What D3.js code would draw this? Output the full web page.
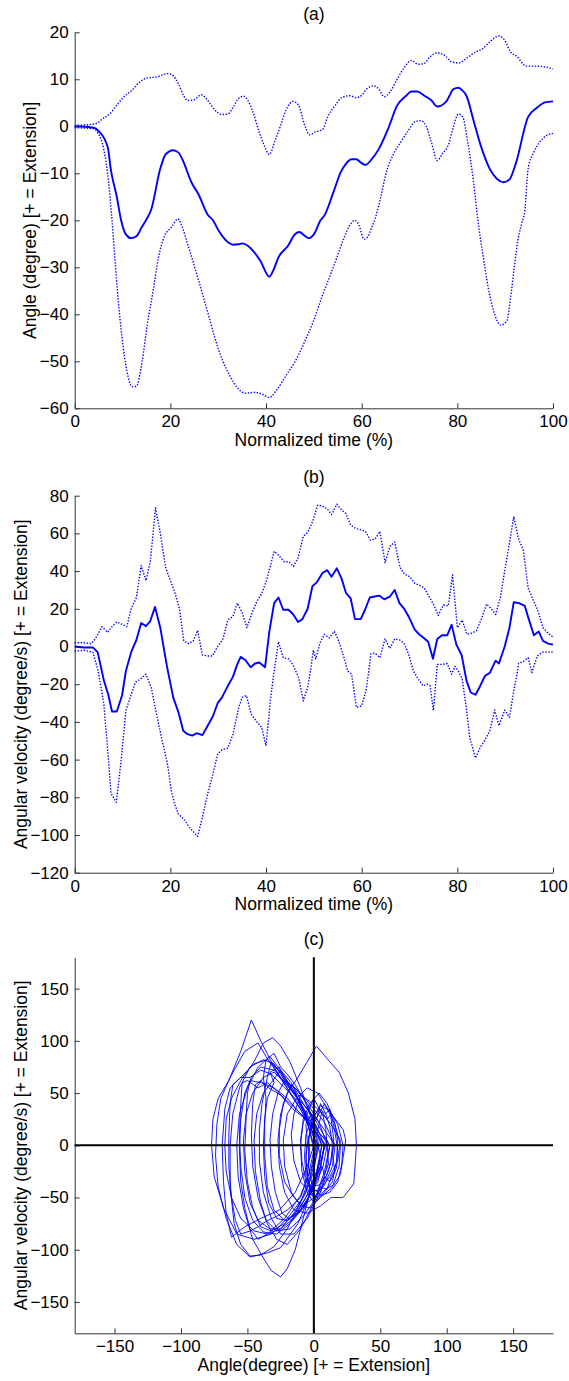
<!DOCTYPE html>
<html><head><meta charset="utf-8">
<script src="https://cdn.jsdelivr.net/npm/d3@7"></script>
<style>
body{margin:0;background:#fff}
svg{display:block}
text{font-family:"Liberation Sans",Arial,Helvetica,sans-serif;fill:#000}
</style>
</head><body>
<svg id="chart" width="569" height="1381"></svg>
<script>
// ---------- Panel (a): angle (degree) vs normalized time (%) ----------
const angleMean = [[0,0],[4,-0.3],[5,-1],[6.9,-4.4],[7.6,-9.5],[8.8,-15],[9.7,-20],[10.7,-23],[11.8,-23.8],[12.9,-23.4],[14,-21.5],[14.9,-20],[16,-17.7],[17.9,-9],[19,-6],[20.6,-5.1],[21.7,-5.6],[22.5,-7],[24.4,-11.9],[25.9,-14.5],[27.8,-18.8],[28.9,-20],[30.1,-22.2],[32.4,-24.9],[33.1,-25.2],[34.3,-25.1],[35,-24.9],[36.2,-25.4],[37.3,-26.5],[38.8,-28.6],[40.7,-32],[41.5,-30.7],[42.6,-27.9],[44.6,-25.4],[46.1,-22.9],[47,-22.5],[48,-23.2],[49,-23.8],[50,-23],[51.4,-20],[52.2,-19],[54.1,-14],[55.6,-9.8],[56.7,-8],[57.9,-7],[58.9,-7],[59.8,-7.7],[60.8,-8.2],[62.1,-7],[63.6,-4.8],[65.5,-0.6],[67.4,4.4],[69.3,6.5],[70.4,7.4],[71.6,7.4],[73.1,6.5],[74.6,5.5],[75.8,4.2],[77.7,5.3],[79.2,7.9],[80.2,8.2],[81.1,7.6],[81.9,6.5],[83.4,1.2],[84.8,-3.8],[86.8,-9.1],[88.3,-11.2],[89.7,-11.9],[90.9,-11.3],[92.2,-8],[94.8,2],[96.7,4],[98.3,5.1],[100,5.3]];
const angleUpper = [[0,0.2],[4.2,0.5],[6.1,1.8],[7.2,2.5],[8.8,4.5],[10.3,6.3],[11.8,7.5],[13.7,9.5],[15.2,10.3],[17.1,10.5],[19.4,11.2],[20.3,11],[21.7,9],[22.8,6.5],[23.6,5.5],[24.8,5.6],[26.5,6.7],[27.8,5.5],[29.3,3.5],[30.8,2.5],[32,2.6],[33.1,4],[34.3,6],[35.3,6.4],[36.2,5.5],[37.3,3],[38.5,-1],[39.6,-4],[40.7,-6],[41.9,-3],[43,0],[44.2,3.5],[45.7,5.3],[46.8,4.5],[48,0.5],[49.1,-1.8],[50.3,-1.2],[51.8,-0.7],[52.9,2],[54.5,4.5],[55.8,6.1],[57.5,6.5],[58.9,6.1],[60.2,6.8],[60.9,7.8],[62.5,8.6],[63.6,7.9],[64.7,6.3],[65.9,7.3],[67.4,10],[68.9,12.5],[70.4,14],[71.8,13.2],[73.1,13.4],[74.3,14.8],[75.8,15.6],[77.7,14.8],[78.8,13.7],[80.3,13.5],[82.2,14.7],[83.8,15.8],[85.3,16.5],[86.8,18],[88.7,19.2],[89.9,18.3],[91,16],[92.5,14.8],[94.4,12.8],[96.3,12.8],[98.6,12.6],[100,12.2]];
const angleLower = [[0,-0.3],[3.8,-0.5],[4.9,-1.5],[6.1,-5],[7.1,-12],[7.8,-20],[8.4,-28],[9.1,-37],[9.9,-45],[10.9,-52],[12,-55.4],[12.9,-55.3],[14.1,-50],[15.2,-42],[16.4,-35],[17.5,-28],[18.7,-23.5],[20.2,-21.5],[21.6,-19.7],[22.5,-21.5],[23.6,-25],[24.8,-29],[26.1,-33.5],[27.8,-39.5],[29.3,-45],[30.8,-49.5],[32.4,-53],[33.9,-55.5],[35.8,-56.8],[37.7,-56.6],[39.2,-57],[40.7,-57.7],[42.3,-56],[44.2,-53],[46.1,-50],[48,-46],[49.9,-41.5],[51.8,-36],[53.3,-32],[54.8,-28],[56.4,-23.5],[57.9,-20.5],[58.6,-20],[59.4,-21],[60.5,-24],[61.3,-23.5],[62.1,-21.5],[62.8,-19.7],[64,-15],[65.1,-10],[66.6,-6],[68.2,-3.3],[69.7,-1],[71.2,1],[72.4,1.2],[73.5,0],[74.6,-3.5],[75.8,-7.3],[76.9,-5.8],[78.1,-4],[79.2,0],[80.2,2.6],[81.1,2],[82.2,-3.5],[83.4,-12],[84.3,-20],[85.3,-27],[86.4,-34],[87.8,-40],[89.1,-42.3],[90.3,-41.5],[91.2,-36],[91.9,-30],[92.7,-24],[93.5,-20.5],[94.1,-18],[94.8,-9],[96,-5.5],[97.1,-3.5],[98.6,-2],[100,-1.5]];

// ---------- Panel (b): angular velocity (degree/s) vs normalized time (%) ----------
const velMean = [[0,0],[1.9,-0.5],[3.8,-0.5],[4.8,-3],[6.1,-18],[7,-25.3],[7.8,-34.5],[8.8,-34.5],[9.9,-26],[10.7,-13],[11.8,-3],[12.9,3.5],[13.9,12.5],[14.9,10.8],[15.8,13.5],[16.8,21],[17.9,10],[18.9,-5],[19.4,-12],[20.6,-27],[21.7,-35],[22.7,-44.7],[23.6,-46.5],[24.6,-47.3],[25.5,-46],[26.7,-47],[27.8,-42],[28.9,-37],[29.9,-30],[30.8,-27],[32,-21],[33.1,-16],[33.9,-10],[34.7,-5.5],[35.6,-7],[36.8,-11],[37.7,-9],[38.6,-8.5],[39.8,-11],[40.7,8],[41.7,23],[42.6,26],[43.6,19.5],[44.7,19.5],[45.7,17],[46.7,13],[47.6,14.5],[48.7,20],[49.7,32],[50.6,34],[51.8,39],[52.8,40.5],[53.7,37],[54.8,41.5],[55.8,36],[56.7,28.5],[57.7,25.5],[58.6,14.5],[59.8,14.5],[60.7,19.5],[61.7,26],[62.7,26.5],[63.7,27],[64.7,25],[65.9,26.5],[66.9,30],[67.9,23],[68.9,20],[69.9,15.5],[71.1,9],[72,6.5],[73,4.5],[73.9,2.5],[74.9,-6.5],[75.8,4],[76.8,6],[77.9,6],[78.8,11.5],[79.8,1],[80.9,-4.5],[81.9,-18],[82.8,-24.4],[83.8,-25.6],[84.8,-20.8],[85.8,-15.5],[86.8,-14],[88,-7.5],[88.7,-9],[89.9,0],[90.9,10],[91.8,23.5],[92.9,23],[94.1,21.5],[95,14],[96,6],[97,8],[97.9,3],[99,1.5],[100,1]];
const velUpper = [[0,2],[1.9,2],[3.4,1.5],[4.3,4],[5.7,10.5],[6.9,7.5],[7.6,10],[8.8,13],[9.7,12],[10.9,10.5],[11.8,20],[12.9,26],[13.9,43],[14.9,35],[15.8,45],[16.9,73.5],[17.9,60],[19,42],[20,35],[20.9,29],[21.9,20],[22.8,3],[23.8,1.5],[24.8,3],[25.7,8.5],[26.7,-4.5],[27.8,-5],[28.8,-5],[29.9,0],[31,4],[32,14],[33.1,16],[34,23],[35,18],[36,10],[37.1,18],[38.1,24],[39.1,28],[40.1,35],[41.7,50.5],[42.6,48.5],[43.8,45],[44.8,45],[45.7,42.5],[46.7,47],[47.8,58.5],[48.7,60.5],[49.7,66],[50.8,75],[51.8,74.5],[52.8,73],[53.7,70],[54.8,75.5],[55.8,72.5],[56.7,70.5],[57.7,64.5],[58.8,62.5],[59.8,62],[60.8,61],[61.8,56.5],[62.8,57],[63.8,61],[64.9,44.5],[65.9,53],[66.9,55.5],[68,42],[68.9,38.5],[70.1,37],[71.1,33.5],[72.1,32.5],[73.1,31],[74.1,26.5],[75,22.5],[76,16.5],[77.1,22],[78.1,21.5],[79,38],[80,10],[81,14],[82,6.5],[83,7],[84,8.5],[85.1,15],[86.1,22.5],[87.1,20],[88,17],[89,26],[89.9,40],[90.9,55],[91.8,69],[92.8,57],[93.8,51],[94.8,31],[95.8,25],[96.7,20],[97.9,10],[99,7],[100,5]];
const velLower = [[0,-2.5],[1.9,-2],[3.8,-3],[4.9,-12.9],[6.1,-30.5],[6.9,-55],[7.6,-78],[8.1,-80],[8.7,-82.7],[9.7,-60.6],[10.7,-34],[11.6,-27],[12.7,-19],[13.7,-17.3],[14.9,-14.7],[16,-21.7],[17.1,-35.8],[18.3,-50],[19.4,-62.4],[20.2,-76.5],[20.9,-83.6],[21.7,-89],[22.8,-91.5],[24,-96],[25.7,-100.7],[26.7,-90.6],[27.8,-78.3],[28.9,-67.7],[29.9,-57],[30.8,-54.8],[32,-53.9],[33.1,-46.5],[34.3,-32.3],[35,-27],[35.9,-26],[36.9,-35.8],[37.9,-39.4],[39.1,-43],[40,-52.7],[40.9,-28.8],[41.7,-13],[42.6,2.5],[43.6,-6],[44.7,-6.5],[45.7,-10],[46.8,-16.4],[47.8,-28.8],[48.7,-21.7],[49.3,-12.9],[49.9,-2],[50.4,-6.5],[51.3,2],[52.2,6.5],[53.2,4.5],[54.3,8],[55.2,3],[56.2,-5],[57.1,-13],[57.9,-14.7],[58.9,-32.3],[60,-31.5],[60.9,-23.5],[61.5,-12.9],[61.9,-4],[62.8,-3.5],[63.8,-6],[64.9,4],[65.9,-1],[66.9,4],[67.9,3.5],[68.9,1.5],[69.8,-4],[70.8,-12.9],[71.6,-16.4],[72.8,-20.8],[73.7,-20],[74.3,-20.8],[75,-34],[75.8,-9.5],[76.9,-9.5],[77.9,-9],[78.8,-14.7],[79.5,-10.5],[80.3,-13.5],[81,-17],[81.9,-33.2],[82.6,-48.2],[83.8,-59.2],[84.8,-53.5],[85.7,-50],[86.8,-44.7],[87.8,-33.7],[88.7,-42],[89.9,-33.7],[90.9,-37.6],[91.8,-23.5],[92.6,-12.9],[92.8,-9],[93.8,-8],[94.8,-6],[95.6,-13.8],[96.7,-5],[97.9,-3],[99,-3],[100,-3]];

// ---------- Panel (c): phase plot, one loop per gait cycle: [angle, angular velocity] ----------
const phaseTrials = [
  [[3,0],[0,-25],[-8,-50],[-20,-70],[-32,-85],[-45,-90],[-58,-85],[-68,-60],[-75,-30],[-77,0],[-76,25],[-72,45],[-64,62],[-55,90],[-47,120],[-40,100],[-30,75],[-20,55],[-10,35],[-3,15],[3,0]],
  [[8,2],[5,-20],[-2,-45],[-12,-75],[-25,-98],[-35,-103],[-48,-107],[-58,-95],[-66,-70],[-72,-40],[-74,-10],[-73,20],[-70,45],[-63,65],[-52,90],[-42,98],[-36,85],[-28,70],[-18,50],[-8,30],[2,12],[8,2]],
  [[32,0],[31,-20],[30,-37],[22,-50],[13,-50],[5,-58],[-5,-65],[-15,-62],[-22,-45],[-26,-20],[-27,5],[-25,30],[-20,50],[-12,65],[-5,80],[2,95],[12,80],[19,70],[26,50],[31,25],[32,0]],
  [[10,5],[5,-15],[-2,-40],[-8,-70],[-14,-100],[-20,-118],[-25,-126],[-32,-120],[-38,-108],[-46,-90],[-53,-60],[-57,-30],[-58,0],[-56,30],[-50,55],[-42,75],[-33,85],[-24,70],[-14,50],[-4,25],[5,10],[10,5]],
  [[2,-5],[-3,-30],[-10,-55],[-20,-80],[-30,-97],[-40,-105],[-48,-106],[-55,-95],[-60,-75],[-63,-40],[-63,0],[-61,30],[-56,55],[-48,75],[-38,82],[-30,78],[-22,62],[-12,45],[-5,25],[0,10],[2,-5]],
  [[0,0],[-5,-20],[-14,-45],[-26,-62],[-40,-70],[-52,-78],[-62,-88],[-66,-65],[-68,-35],[-69,0],[-67,35],[-63,55],[-55,65],[-45,78],[-35,82],[-25,70],[-15,52],[-7,30],[0,0]],
  [[18,5],[17,-15],[14,-35],[8,-45],[0,-55],[-5,-45],[-9,-25],[-10,0],[-8,25],[-3,40],[4,50],[10,40],[15,25],[18,5]],
  [[20,0],[19,-20],[14,-40],[5,-50],[-3,-60],[-10,-58],[-17,-45],[-22,-20],[-23,5],[-20,30],[-13,45],[-5,55],[3,50],[10,35],[16,20],[20,0]],
  [[6,0],[2,-25],[-6,-50],[-15,-70],[-25,-80],[-33,-80],[-42,-72],[-48,-55],[-52,-25],[-53,5],[-51,30],[-46,50],[-38,65],[-30,70],[-22,60],[-12,45],[-3,25],[6,0]],
  [[12,0],[8,-25],[0,-55],[-10,-80],[-20,-95],[-28,-90],[-35,-75],[-40,-55],[-44,-25],[-45,5],[-43,30],[-38,50],[-32,60],[-25,72],[-17,60],[-8,40],[2,22],[12,0]],
  [[15,2],[12,-20],[5,-45],[-5,-70],[-15,-85],[-25,-85],[-32,-70],[-38,-45],[-41,-15],[-41,15],[-39,40],[-35,65],[-32,80],[-25,70],[-15,50],[-5,35],[5,20],[15,2]],
  [[10,0],[7,-20],[0,-40],[-8,-60],[-17,-72],[-24,-65],[-29,-45],[-32,-20],[-33,5],[-31,30],[-27,50],[-22,62],[-14,55],[-5,40],[4,22],[10,0]],
  [[16,0],[14,-20],[8,-38],[0,-50],[-8,-58],[-15,-50],[-22,-35],[-26,-10],[-26,15],[-23,40],[-17,58],[-10,50],[-2,38],[8,22],[16,0]],
  [[20,5],[18,-15],[12,-30],[5,-42],[-3,-45],[-10,-35],[-15,-15],[-17,10],[-15,30],[-10,48],[-3,42],[5,32],[13,20],[20,5]],
  [[4,0],[0,-20],[-6,-45],[-15,-65],[-25,-80],[-35,-85],[-45,-82],[-55,-70],[-62,-50],[-66,-25],[-67,0],[-66,25],[-62,45],[-55,62],[-45,80],[-38,98],[-31,103],[-25,95],[-18,80],[-10,55],[-3,30],[4,0]],
  [[8,0],[5,-20],[-2,-42],[-12,-62],[-22,-75],[-32,-82],[-40,-78],[-46,-60],[-50,-35],[-52,-5],[-51,25],[-50,50],[-48,62],[-40,60],[-30,55],[-20,45],[-10,30],[0,15],[8,0]],
  [[2,0],[-2,-22],[-10,-48],[-22,-70],[-35,-85],[-42,-90],[-48,-80],[-52,-60],[-55,-35],[-56,-5],[-55,25],[-52,50],[-47,65],[-40,75],[-30,72],[-20,58],[-10,40],[-3,20],[2,0]],
  [[14,0],[13,-15],[10,-28],[4,-38],[-2,-40],[-6,-30],[-7,-10],[-6,10],[-2,25],[4,35],[9,30],[12,18],[14,0]],
  [[22,0],[21,-18],[18,-35],[12,-45],[5,-48],[-1,-40],[-4,-20],[-4,5],[-1,25],[5,38],[12,33],[18,20],[22,0]],
  [[5,-10],[0,-40],[-8,-60],[-18,-75],[-28,-85],[-38,-83],[-46,-72],[-52,-50],[-55,-20],[-56,10],[-55,40],[-54,60],[-50,62],[-42,55],[-35,60],[-28,52],[-18,40],[-8,28],[0,15],[5,-10]],
  [[12,0],[9,-25],[2,-50],[-8,-68],[-18,-80],[-28,-82],[-36,-72],[-42,-50],[-46,-20],[-47,10],[-46,40],[-44,58],[-40,62],[-34,55],[-25,48],[-16,35],[-6,25],[4,12],[12,0]],
  [[15,5],[14,-10],[16,-25],[12,-35],[8,-30],[5,-45],[0,-50],[-4,-38],[-6,-15],[-5,5],[-6,20],[-2,30],[2,25],[5,40],[9,30],[12,35],[14,15],[15,5]],
  [[18,-5],[17,-22],[13,-30],[10,-42],[4,-40],[1,-52],[-3,-45],[-5,-28],[-3,-10],[-4,8],[0,22],[3,15],[6,32],[10,25],[13,30],[16,12],[18,-5]],
  [[10,0],[11,-18],[8,-28],[6,-20],[3,-35],[-1,-42],[-6,-35],[-9,-15],[-10,5],[-8,22],[-5,30],[0,45],[4,35],[7,28],[9,15],[10,0]],
  [[24,5],[22,-12],[20,-28],[15,-38],[9,-42],[3,-50],[-2,-45],[-5,-30],[-6,-8],[-3,12],[2,26],[8,40],[13,30],[18,22],[22,15],[24,5]],
  [[8,0],[5,-22],[-2,-45],[-10,-62],[-20,-72],[-28,-70],[-34,-55],[-37,-30],[-38,0],[-37,25],[-35,45],[-30,60],[-33,70],[-26,75],[-22,62],[-15,55],[-12,45],[-5,35],[2,18],[8,0]],
  [[6,0],[3,-25],[-4,-50],[-12,-65],[-22,-72],[-30,-62],[-35,-40],[-37,-10],[-37,20],[-36,45],[-38,65],[-36,82],[-30,88],[-25,75],[-20,68],[-14,58],[-8,45],[-2,30],[6,0]],
  [[0,-5],[-4,-28],[-10,-50],[-20,-62],[-28,-68],[-35,-72],[-42,-78],[-48,-82],[-55,-85],[-59,-72],[-62,-50],[-64,-20],[-64,10],[-63,40],[-61,58],[-55,65],[-48,65],[-40,72],[-32,68],[-22,55],[-12,42],[-5,25],[0,-5]]
];

// ---------- tick values and labels ----------
const timeTicks = [0,20,40,60,80,100];
const angleTicks = [-60,-50,-40,-30,-20,-10,0,10,20];
const velTicks = [-120,-100,-80,-60,-40,-20,0,20,40,60,80];
const phaseTicks = [-150,-100,-50,0,50,100,150];
const titles = ["(a)","(b)","(c)"];
const xLabels = ["Normalized time (%)","Normalized time (%)","Angle(degree) [+ = Extension]"];
const yLabels = ["Angle (degree) [+ = Extension]","Angular velocity (degree/s) [+ = Extension]","Angular velocity (degree/s) [+ = Extension]"];

// ---------- drawing ----------
const svg = d3.select('#chart');
const LEFT = 74.7, RIGHT = 553, CX = (LEFT+RIGHT)/2;
const BLUE = '#0000ff';
const FS = '17.5px', TFS = '17px';

function drawPanel(o){
  const g = svg.append('g');
  const x = d3.scaleLinear().domain(o.xDomain).range([LEFT, RIGHT]);
  const y = d3.scaleLinear().domain(o.yDomain).range([o.bottom, o.top]);

  const xAxis = d3.axisBottom(x).tickValues(o.xTicks).tickSizeInner(-5).tickSizeOuter(0).tickPadding(7);
  const yAxis = d3.axisLeft(y).tickValues(o.yTicks).tickSizeInner(-5).tickSizeOuter(0).tickPadding(6);

  const gx = g.append('g').attr('transform', `translate(0,${o.bottom})`).call(xAxis);
  const gy = g.append('g').attr('transform', `translate(${LEFT},0)`).call(yAxis);
  [gx, gy].forEach(a => {
    a.select('.domain').attr('stroke', '#333').attr('stroke-width', 1);
    a.selectAll('.tick line').attr('stroke', '#333').attr('stroke-width', 1);
    a.selectAll('.tick text').attr('font-size', TFS).attr('font-family', '"Liberation Sans",Arial,sans-serif').attr('fill', '#000');
  });

  g.append('text').attr('x', CX).attr('y', o.top - 12.5).attr('text-anchor', 'middle').attr('font-size', FS).text(o.title);
  g.append('text').attr('x', CX).attr('y', o.bottom + 37.5).attr('text-anchor', 'middle').attr('font-size', FS).text(o.xLabel);
  g.append('text').attr('transform', `translate(${o.yLabelX},${(o.top+o.bottom)/2}) rotate(-90)`)
    .attr('text-anchor', 'middle').attr('font-size', FS).text(o.yLabel);
  return {g, x, y};
}

// panel a
(function(){
  const p = drawPanel({top:32.3,bottom:408.3,xDomain:[0,100],yDomain:[-60,20],xTicks:timeTicks,yTicks:angleTicks,
    title:titles[0],xLabel:xLabels[0],yLabel:yLabels[0],yLabelX:36});
  const line = d3.line().x(d=>p.x(d[0])).y(d=>p.y(d[1])).curve(d3.curveMonotoneX);
  [[angleUpper,true],[angleLower,true],[angleMean,false]].forEach(([s,dot])=>{
    p.g.append('path').datum(s).attr('d', line).attr('fill','none').attr('stroke',BLUE)
      .attr('stroke-width', dot?1.4:1.9).attr('stroke-dasharray', dot?'1.4,1.6':null);
  });
})();

// panel b
(function(){
  const p = drawPanel({top:495.7,bottom:872.7,xDomain:[0,100],yDomain:[-120,80],xTicks:timeTicks,yTicks:velTicks,
    title:titles[1],xLabel:xLabels[1],yLabel:yLabels[1],yLabelX:27});
  const line = d3.line().x(d=>p.x(d[0])).y(d=>p.y(d[1]));
  [[velUpper,true],[velLower,true],[velMean,false]].forEach(([s,dot])=>{
    p.g.append('path').datum(s).attr('d', line).attr('fill','none').attr('stroke',BLUE)
      .attr('stroke-width', dot?1.4:1.9).attr('stroke-dasharray', dot?'1.4,1.6':null).attr('stroke-linejoin','round');
  });
})();

// panel c
(function(){
  const p = drawPanel({top:957.3,bottom:1333.3,xDomain:[-180,180],yDomain:[-180,180],xTicks:phaseTicks,yTicks:phaseTicks,
    title:titles[2],xLabel:xLabels[2],yLabel:yLabels[2],yLabelX:27});
  const line = d3.line().x(d=>p.x(d[0])).y(d=>p.y(d[1]));
  p.g.append('g').selectAll('path').data(phaseTrials).join('path')
    .attr('d', line).attr('fill','none').attr('stroke',BLUE).attr('stroke-width',1).attr('stroke-opacity',0.9);
  p.g.append('line').attr('x1',p.x(0)).attr('x2',p.x(0)).attr('y1',p.y(180)).attr('y2',p.y(-180))
    .attr('stroke','#000').attr('stroke-width',2);
  p.g.append('line').attr('x1',p.x(-180)).attr('x2',p.x(180)).attr('y1',p.y(0)).attr('y2',p.y(0))
    .attr('stroke','#000').attr('stroke-width',2);
})();
</script>
</body></html>
